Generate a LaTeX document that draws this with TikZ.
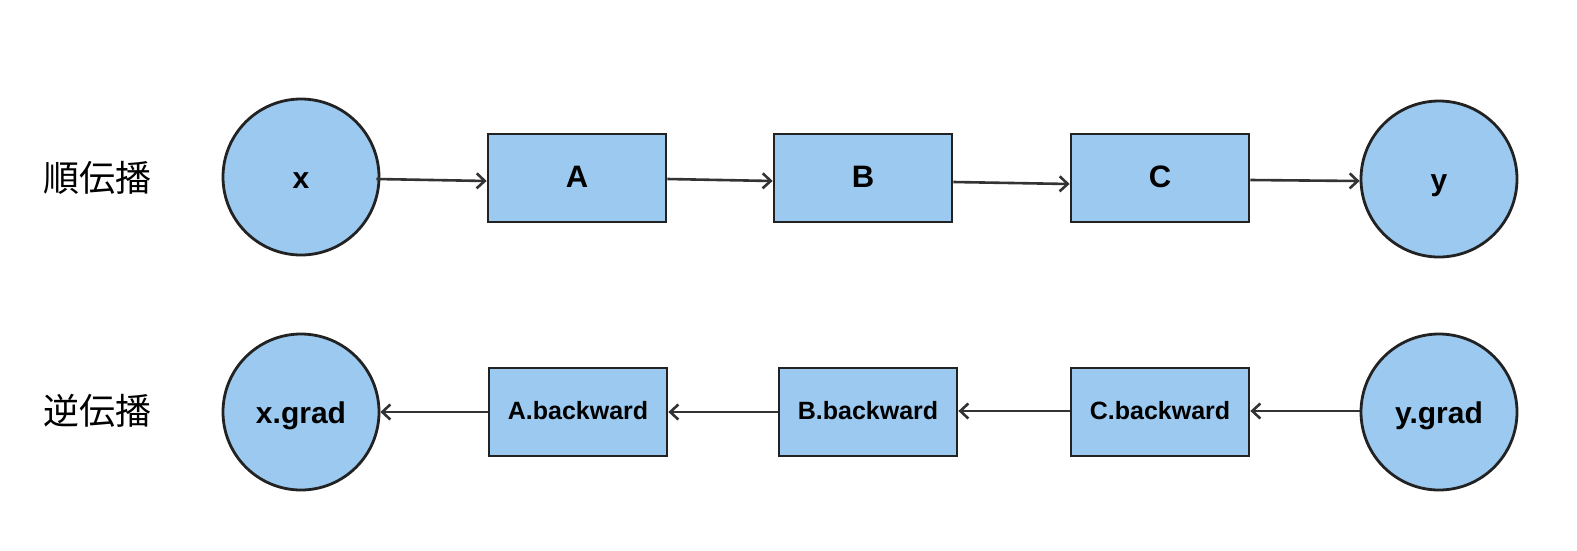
\documentclass[tikz,border=0pt]{standalone}
\usepackage{fontspec}
\setmainfont{Liberation Sans}
\newfontfamily\jp{Noto Sans CJK JP}
\usetikzlibrary{arrows.meta}
\definecolor{nodefill}{RGB}{155,201,239}
\definecolor{edge}{RGB}{34,34,34}
\definecolor{arrowc}{RGB}{51,51,51}
\begin{document}
\begin{tikzpicture}[x=1pt,y=-1pt,
  roundnode/.style={circle,draw=edge,fill=nodefill,line width=2.8pt,minimum size=156pt,inner sep=0pt,font=\fontsize{30}{36}\selectfont\bfseries,text height=25.6pt,text depth=2pt},
  boxnode/.style={rectangle,draw=edge,fill=nodefill,line width=2.8pt,minimum width=178pt,minimum height=88pt,inner sep=0pt,font=\fontsize{31}{36}\selectfont\bfseries,text height=22.3pt,text depth=3.1pt},
  backbox/.style={boxnode,font=\fontsize{25}{30}\selectfont\bfseries,text height=18pt,text depth=3pt},
  rowlabel/.style={font=\jp\fontsize{36}{40}\selectfont,inner sep=0pt},
  link/.style={draw=arrowc,line width=2.6pt,-{Straight Barb[length=8pt,width=15pt,line width=2.6pt]}}
]
\useasboundingbox (0,0) rectangle (1577,550);
% labels
\node[rowlabel] (fwd) at (97,178) {順伝播};
\node[rowlabel] (bwd) at (97,411) {逆伝播};
% row 1
\node[roundnode] (x) at (301,177) {x};
\node[boxnode] (A) at (577,178) {A};
\node[boxnode] (B) at (863,178) {B};
\node[boxnode] (C) at (1160,178) {C};
\node[roundnode] (y) at (1439,179) {y};
% row 2
\node[roundnode] (xg) at (301,412) {x.grad};
\node[backbox] (Ab) at (578,412) {A.backward};
\node[backbox] (Bb) at (868,412) {B.backward};
\node[backbox] (Cb) at (1160,412) {C.backward};
\node[roundnode] (yg) at (1439,412) {y.grad};
% arrows
\draw[link] ([xshift=-4pt,yshift=-2pt]x.east) -- ([yshift=-3pt]A.west);
\draw[link] ([yshift=-1pt]A.east) -- ([yshift=-3pt]B.west);
\draw[link] ([yshift=-4pt]B.east) -- ([yshift=-6pt]C.west);
\draw[link] ([yshift=-2pt]C.east) -- ([yshift=-2pt]y.west);
\draw[link] ([yshift=1pt]yg.west) -- ([yshift=1pt]Cb.east);
\draw[link] ([yshift=1pt]Cb.west) -- ([yshift=1pt]Bb.east);
\draw[link] (Bb.west) -- (Ab.east);
\draw[link] (Ab.west) -- (xg.east);
\end{tikzpicture}
\end{document}
